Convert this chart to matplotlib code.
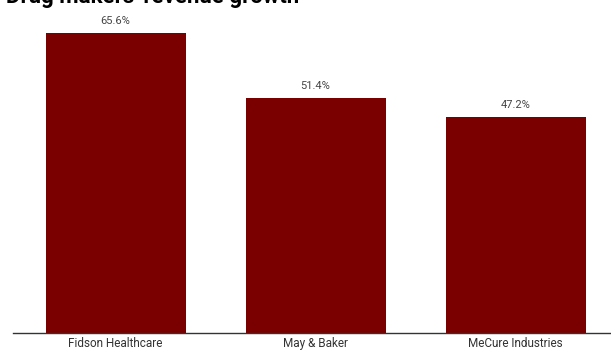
import matplotlib
matplotlib.use("Agg")
import matplotlib.pyplot as plt

categories = ["Fidson Healthcare", "May & Baker", "MeCure Industries"]
values = [65.6, 51.4, 47.2]
labels = ["65.6%", "51.4%", "47.2%"]
title = "Drug makers' revenue growth"

plt.rcParams['font.family'] = ['Roboto', 'DejaVu Sans']

W, H = 611, 352
fig = plt.figure(figsize=(W/100, H/100), dpi=100)
x0 = 13
ax = fig.add_axes([x0/W, 19/H, (W - x0)/W, (333-19)/H])
ax.set_ylim(0, 65.6 * 314/300)
ax.bar(range(len(categories)), values, width=0.7, color="#7a0000")
for i, (v, lab) in enumerate(zip(values, labels)):
    ax.text(i, v + 1.5, lab, ha='center', va='bottom', fontsize=8, color='#444444')
ax.set_xlim(-0.5125, 2.4775)
ax.set_xticks(range(len(categories)))
ax.set_xticklabels(categories, fontsize=8.5, color='#333333')
ax.tick_params(axis='x', length=0, pad=3)
ax.set_yticks([])
for s in ['top', 'right', 'left']:
    ax.spines[s].set_visible(False)
ax.spines['bottom'].set_color('#333333')
ax.spines['bottom'].set_linewidth(1)
fig.text(6/W, 1 - 3/H, title, fontsize=16, fontweight='bold', color='black', va='baseline', ha='left')
fig.savefig("out.png", dpi=100)
